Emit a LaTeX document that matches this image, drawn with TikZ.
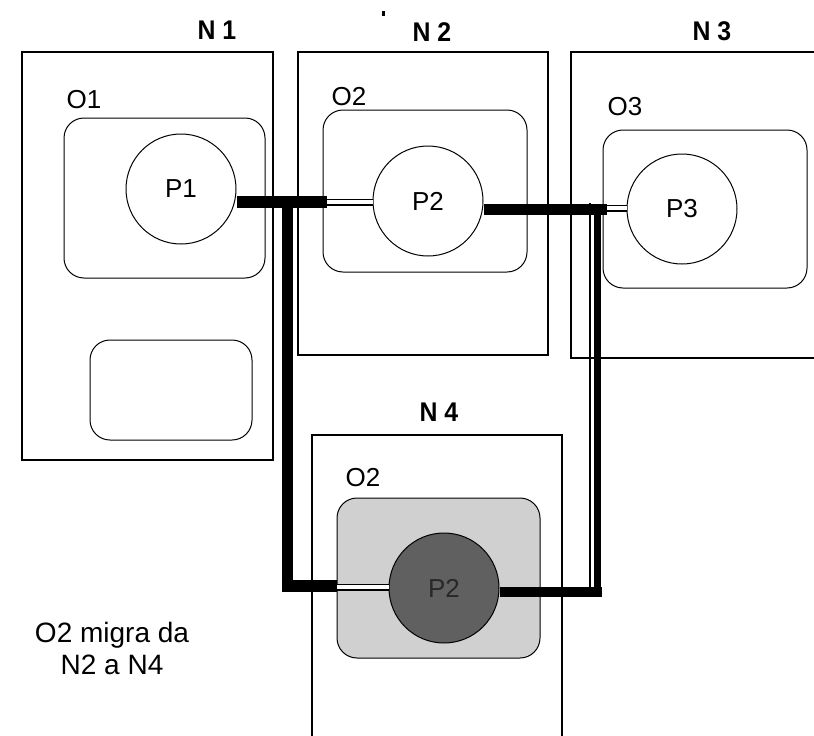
\documentclass[tikz,border=0pt]{standalone}
\usepackage{fontspec}
\setmainfont{Liberation Sans}
\usetikzlibrary{calc}
\begin{document}
\begin{tikzpicture}[x=1pt,y=-1pt,
  frame/.style={draw=black, line width=1.3pt},
  obj/.style={draw=black, line width=1pt, rounded corners=20pt},
  proc/.style={draw=black, line width=1pt, circle, minimum size=110pt, inner sep=0pt,
               font=\fontsize{26}{30}\selectfont},
  lbl/.style={font=\fontsize{26}{30}\selectfont, inner sep=0pt},
  sitelbl/.style={font=\bfseries\fontsize{27}{30}\selectfont, inner sep=0pt, xscale=0.92},
  link/.style={draw=black, line width=12pt},
  dbl/.style={draw=black, line width=1.5pt, double=white, double distance=4pt},
]
\useasboundingbox (0,0) rectangle (814,736);
\fill[white] (0,0) rectangle (814,736);

% site frames
\draw[frame] (22,52) rectangle (273,460);
\draw[frame] (298,52) rectangle (548,355);
\draw[frame] (814,52) -- (571,52) -- (571,358) -- (814,358);
\draw[frame] (312,736) -- (312,435) -- (562,435) -- (562,736);

% site labels
\node[sitelbl] (n1) at (217,30) {N 1};
\node[sitelbl] (n2) at (432,32) {N 2};
\node[sitelbl] (n3) at (712,31) {N 3};
\node[sitelbl] (n4) at (439,412) {N 4};
\fill (382,11) rectangle (384.5,16);

% objects
\draw[obj] (64,118) rectangle (265,278);
\draw[obj] (90,340) rectangle (252,440);
\draw[obj] (323,110) rectangle (527,272);
\draw[obj] (603,130) rectangle (807,288);
\draw[obj, fill={rgb,255:red,208;green,208;blue,208}] (337,498) rectangle (540,658);

\node[lbl] (o1) at (84,100) {O1};
\node[lbl] (o2) at (349,97) {O2};
\node[lbl] (o3) at (625,107) {O3};
\node[lbl] (o2m) at (363,478) {O2};

% processes
\node[proc] (p1) at (181,189) {P1};
\node[proc] (p2) at (428,201) {P2};
\node[proc] (p3) at (682,209) {P3};
\node[proc, fill={rgb,255:red,96;green,96;blue,96}, text={rgb,255:red,40;green,40;blue,40}]
  (p2m) at (444,588) {P2};

% connection points
\coordinate (ja) at (327,202);
\coordinate (jb) at (287,202);
\coordinate (jc) at (287,586);
\coordinate (jd) at (337,586);
\coordinate (je) at (607,209);
\coordinate (jf) at (597,209);
\coordinate (jg) at (597,592);
\coordinate (jh) at (601.5,592);

% links
\draw[link] (ja -| p1.east) -- (ja);
\draw[dbl] (ja) -- (ja -| p2.west);
\draw[link, line width=11pt] (jb) -- (jc);
\draw[link] ([xshift=-5.5pt]jc) -- (jd);
\draw[dbl] ([yshift=-1pt]jd) -- ([yshift=-1pt]jd -| p2m.west);

\draw[link, line width=11pt] (je -| p2.east) -- (je);
\draw[dbl] ([yshift=1pt]je) -- ([yshift=1pt]je -| p3.west);
\draw[link, line width=7pt] (jf) -- (jg);
\draw[draw=black, line width=1.2pt] ([xshift=-7pt,yshift=6pt]jf) -- ([xshift=-7pt,yshift=-5pt]jg);
\draw[link, line width=10pt] (jg -| p2m.east) -- (jh);

% caption
\node[lbl, align=center, font=\fontsize{28}{32}\selectfont] (cap) at (112,648)
  {O2 migra da\\N2 a N4};
\end{tikzpicture}
\end{document}
